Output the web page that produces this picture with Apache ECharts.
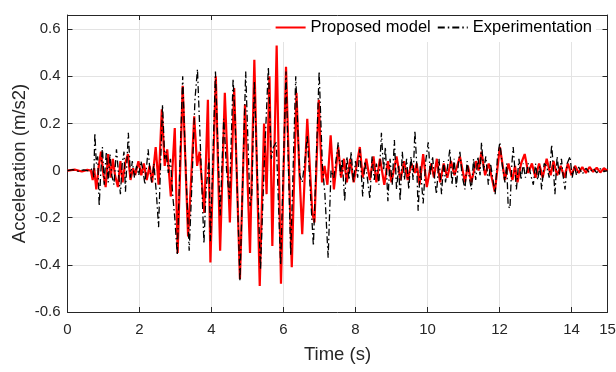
<!DOCTYPE html>
<html>
<head>
<meta charset="utf-8">
<script src="https://cdn.jsdelivr.net/npm/echarts@6/dist/echarts.min.js"></script>
<style>
html,body{margin:0;padding:0;background:#fff;}
#chart{width:616px;height:372px;}
</style>
</head>
<body>
<div id="chart"></div>
<script>
// ---- data (time in s, acceleration in m/s2) ----
var seriesNames = ["Proposed model", "Experimentation"];
var xTicks = [0, 2, 4, 6, 8, 10, 12, 14, 15];
var yTicks = [-0.6, -0.4, -0.2, 0, 0.2, 0.4, 0.6];

var modelTime = [0,0.2,0.4,0.55,0.65,0.7,0.74,0.8,0.87,0.93,1.0,1.06,1.13,1.2,1.26,1.32,1.4,1.47,1.53,1.6,1.68,1.75,1.82,1.88,1.97,2.05,2.12,2.2,2.28,2.35,2.45,2.53,2.62,2.7,2.77,2.87,2.98,3.06,3.2,3.35,3.43,3.52,3.6,3.67,3.8,3.9,3.97,4.12,4.24,4.37,4.51,4.63,4.79,4.93,5.07,5.19,5.34,5.46,5.53,5.61,5.69,5.81,5.93,6.07,6.23,6.36,6.44,6.52,6.66,6.8,6.86,6.98,7.07,7.14,7.22,7.31,7.4,7.52,7.6,7.68,7.76,7.85,7.95,8.03,8.12,8.2,8.3,8.4,8.5,8.58,8.68,8.8,8.9,9.0,9.14,9.25,9.35,9.45,9.55,9.65,9.7,9.78,9.88,9.98,10.1,10.18,10.26,10.35,10.45,10.55,10.65,10.75,10.9,11.04,11.12,11.22,11.35,11.42,11.5,11.6,11.7,11.87,12.01,12.15,12.25,12.36,12.43,12.5,12.6,12.7,12.8,12.9,13.0,13.1,13.2,13.31,13.42,13.5,13.6,13.7,13.8,13.9,14.0,14.1,14.2,14.3,14.4,14.5,14.6,14.7,14.8,14.9,15.0];
var modelAcc = [0,0.004,-0.004,0.003,0,-0.04,0.01,-0.08,0.02,0.08,-0.02,-0.07,0.07,-0.03,0.05,-0.02,-0.07,0.04,-0.05,0.03,0.07,-0.04,0.01,-0.02,0.04,-0.02,0.03,-0.04,0.02,-0.05,0.10,-0.06,0.26,0.02,0.09,-0.11,0.18,-0.35,0.36,-0.28,-0.05,0.23,0.02,0.08,-0.18,0.30,-0.39,0.40,-0.34,0.33,-0.22,0.35,-0.46,0.28,-0.35,0.47,-0.49,0.20,-0.10,0.40,-0.32,0.53,-0.48,0.44,-0.41,0.33,0.0,-0.27,0.22,-0.18,-0.22,0.30,-0.05,0.02,-0.06,0.15,-0.08,0.10,-0.03,0.05,-0.05,0.05,-0.05,0.02,0.10,-0.03,0.05,-0.04,0.06,-0.05,0.05,-0.06,0.04,-0.05,0.06,-0.04,0.04,-0.04,0.03,-0.01,0.03,-0.06,0.07,-0.07,0.03,-0.03,0.05,-0.05,0.03,-0.03,0.04,-0.02,0.06,-0.05,0.02,-0.05,0.04,0.0,0.08,-0.02,0.03,-0.09,0.10,-0.04,0.03,-0.04,0.02,-0.05,0.03,0.07,-0.01,0.03,-0.03,0.03,-0.03,0.05,-0.02,0.04,-0.02,0.02,-0.03,0.03,-0.02,0.02,-0.01,0.015,-0.01,0.015,-0.005,0.012,-0.008,0.01,0.0];

var expTime = [0,0.15,0.3,0.45,0.6,0.7,0.73,0.76,0.8,0.84,0.88,0.92,0.97,1.02,1.05,1.08,1.13,1.18,1.23,1.29,1.36,1.41,1.47,1.52,1.57,1.61,1.69,1.75,1.8,1.86,1.92,1.98,2.04,2.1,2.15,2.24,2.29,2.34,2.4,2.47,2.53,2.58,2.64,2.7,2.74,2.8,2.86,2.92,2.98,3.05,3.12,3.2,3.26,3.3,3.38,3.45,3.54,3.61,3.68,3.79,3.85,3.93,3.97,4.11,4.24,4.34,4.42,4.5,4.6,4.66,4.79,4.95,5.07,5.12,5.19,5.27,5.36,5.47,5.58,5.66,5.72,5.8,5.92,6.07,6.2,6.34,6.45,6.52,6.6,6.66,6.75,6.83,6.9,6.99,7.08,7.15,7.24,7.32,7.4,7.52,7.58,7.63,7.7,7.76,7.82,7.88,7.94,8.0,8.06,8.12,8.2,8.26,8.32,8.4,8.46,8.52,8.58,8.65,8.72,8.78,8.83,8.9,8.96,9.02,9.08,9.14,9.2,9.24,9.3,9.36,9.42,9.48,9.54,9.6,9.65,9.7,9.74,9.8,9.84,9.88,9.95,10.02,10.08,10.14,10.2,10.25,10.32,10.39,10.45,10.5,10.56,10.62,10.68,10.74,10.8,10.86,10.9,10.96,11.04,11.1,11.16,11.22,11.28,11.34,11.4,11.46,11.5,11.56,11.62,11.69,11.75,11.82,11.88,11.94,12.01,12.08,12.15,12.2,12.24,12.29,12.34,12.38,12.44,12.47,12.54,12.6,12.66,12.72,12.8,12.87,12.94,13.0,13.06,13.12,13.17,13.24,13.31,13.38,13.45,13.5,13.54,13.6,13.66,13.72,13.78,13.82,13.88,13.96,14.02,14.08,14.14,14.2,14.3,14.4,14.5,14.6,14.7,14.8,14.9,15.0];
var expAcc = [0,0.004,-0.003,0.003,-0.002,0.01,-0.03,0.16,0.03,0.06,-0.15,-0.02,0.10,-0.06,0.02,0.08,-0.05,0.07,-0.02,-0.06,0.09,0.0,-0.10,0.03,0.08,-0.09,0.16,-0.03,0.04,-0.03,0.02,-0.02,0.04,0.0,-0.06,0.09,0.0,-0.05,0.03,-0.10,-0.24,0.0,0.28,0.05,0.08,-0.01,0.05,-0.10,-0.20,-0.36,0.02,0.40,0.12,-0.05,-0.34,-0.08,0.30,0.43,0.15,-0.31,-0.08,0.05,-0.30,0.42,-0.19,0.22,0.0,-0.12,0.39,0.20,-0.47,0.42,-0.15,-0.10,0.38,0.0,-0.42,0.05,0.44,0.05,0.10,0.12,-0.40,0.42,-0.36,0.40,-0.02,-0.05,0.05,0.15,-0.10,-0.32,0.0,0.42,0.02,-0.10,-0.37,0.0,-0.03,0.12,-0.02,0.05,-0.13,0.06,-0.04,0.08,-0.05,0.04,-0.03,0.09,-0.11,0.04,-0.02,-0.12,0.06,-0.04,0.03,-0.06,0.16,0.0,0.10,-0.13,0.05,-0.06,0.13,-0.08,0.02,-0.13,0.08,-0.04,0.05,-0.08,0.06,-0.04,0.17,0.03,-0.17,0.02,-0.06,-0.14,0.04,0.12,-0.02,0.06,-0.04,-0.10,0.05,-0.10,0.04,-0.05,0.02,0.09,-0.06,0.05,-0.07,0.03,0.08,-0.02,-0.08,0.04,-0.03,-0.08,0.05,-0.04,0.06,-0.02,0.12,0.0,0.06,-0.06,0.03,-0.04,-0.10,0.05,0.12,0.02,-0.05,0.03,-0.15,-0.16,0.02,0.10,-0.02,-0.08,0.05,-0.04,0.03,-0.03,0.03,-0.02,-0.06,0.03,-0.04,0.02,-0.08,0.03,0.02,-0.03,0.11,0.0,-0.10,0.06,-0.02,0.05,-0.04,-0.08,0.03,0.06,-0.03,0.02,-0.02,0.015,-0.015,0.01,-0.01,0.01,-0.01,0.008,-0.005,0.0];

function pairs(t, v) { return t.map(function (x, i) { return [x, v[i]]; }); }

var FONT = "'Liberation Sans', Arial, sans-serif";
var AX = '#262626';
var chart = echarts.init(document.getElementById('chart'), null, {renderer: 'canvas'});

function yFmt(v) {
  var k = Math.round(v * 5);
  if (Math.abs(v * 5 - k) > 1e-6) return '';
  var r = Math.round(v * 10) / 10;
  return r === 0 ? '0' : String(r);
}
function xFmt(v) {
  return xTicks.indexOf(Math.round(v * 1000) / 1000) >= 0 ? String(Math.round(v)) : '';
}
function frameAxis(extra) {
  var base = {
    type: 'value',
    axisLine: {show: true, onZero: false, lineStyle: {color: AX, width: 1}},
    axisTick: {show: true, inside: true, length: 5, lineStyle: {color: AX}},
    axisLabel: {show: false}, splitLine: {show: false}
  };
  for (var k in extra) base[k] = extra[k];
  return base;
}

var option = {
  animation: false,
  backgroundColor: '#fff',
  grid: {left: 67.5, right: 8.5, top: 15, bottom: 60, containLabel: false, outerBoundsMode: 'none'},
  legend: {
    right: 20, top: 16,
    itemWidth: 30, itemHeight: 14, itemGap: 6,
    backgroundColor: '#fff',
    padding: [3, 4, 6, 4],
    itemStyle: {opacity: 0},
    textStyle: {fontFamily: FONT, fontSize: 16.5, color: '#000'},
    data: seriesNames
  },
  xAxis: [{
    type: 'value', min: 0, max: 15, interval: 2,
    name: 'Time (s)', nameLocation: 'middle', nameGap: 33, nameMoveOverlap: false,
    nameTextStyle: {fontFamily: FONT, fontSize: 18.5, color: AX},
    axisLine: {show: true, onZero: false, lineStyle: {color: AX, width: 1}},
    axisTick: {show: true, inside: true, length: 5, lineStyle: {color: AX}},
    axisLabel: {fontFamily: FONT, fontSize: 15, color: AX, margin: 10, formatter: xFmt, showMaxLabel: true},
    splitLine: {show: true, lineStyle: {color: '#e3e3e3', width: 1}}
  }, frameAxis({min: 0, max: 15, interval: 2, position: 'top'})],
  yAxis: [{
    type: 'value', min: -0.6, max: 0.66, interval: 0.2,
    name: 'Acceleration (m/s2)', nameLocation: 'middle', nameGap: 38, nameMoveOverlap: false,
    nameTextStyle: {fontFamily: FONT, fontSize: 18.5, color: AX},
    axisLine: {show: true, onZero: false, lineStyle: {color: AX, width: 1}},
    axisTick: {show: true, inside: true, length: 5, lineStyle: {color: AX}},
    axisLabel: {fontFamily: FONT, fontSize: 15, color: AX, margin: 7, formatter: yFmt},
    splitLine: {show: true, lineStyle: {color: '#e3e3e3', width: 1}}
  }, frameAxis({min: -0.6, max: 0.66, interval: 0.2, position: 'right'})],
  series: [{
    name: seriesNames[0], type: 'line', xAxisIndex: 0, yAxisIndex: 0,
    data: pairs(modelTime, modelAcc),
    symbol: 'none', showSymbol: false, z: 2,
    lineStyle: {color: '#ff0000', width: 2.2},
    itemStyle: {color: '#ff0000'}
  }, {
    name: seriesNames[1], type: 'line', xAxisIndex: 0, yAxisIndex: 0,
    data: pairs(expTime, expAcc),
    symbol: 'none', showSymbol: false, z: 3,
    lineStyle: {color: '#000000', width: 1.3, type: [7, 3, 1.5, 3]},
    itemStyle: {color: '#000000'}
  }]
};
chart.setOption(option);
</script>
</body>
</html>
